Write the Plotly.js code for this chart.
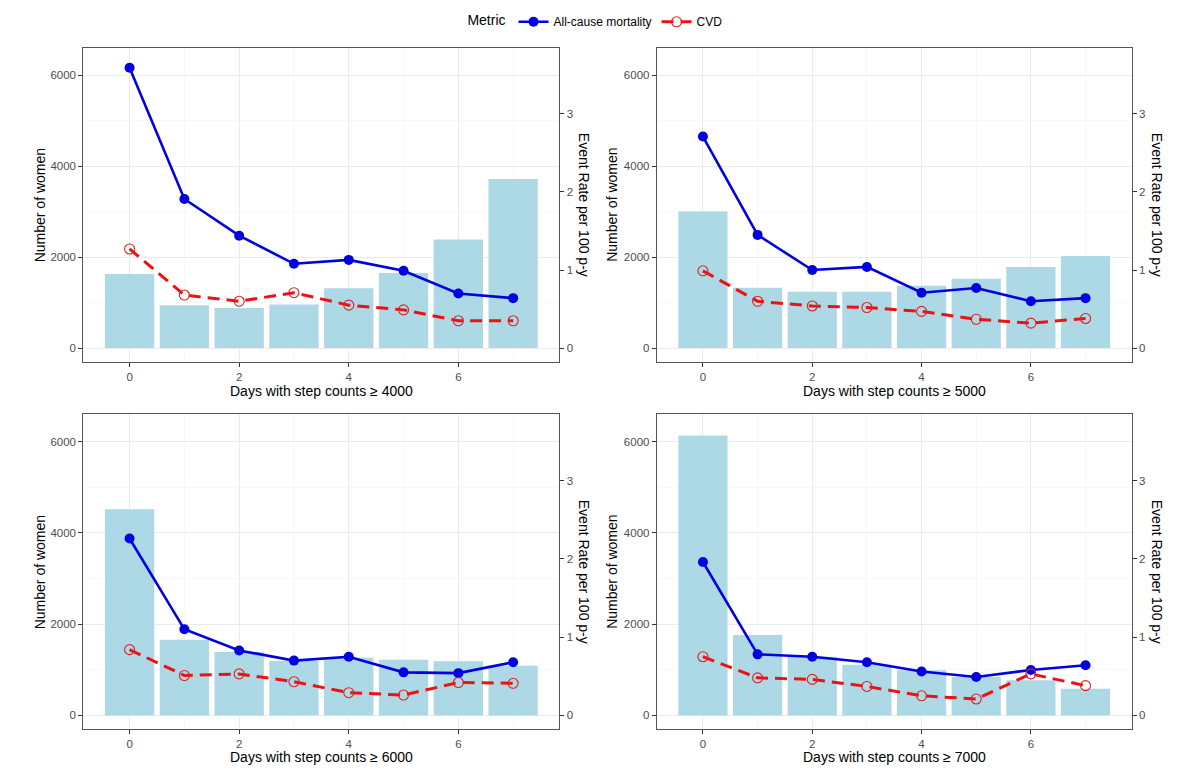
<!DOCTYPE html>
<html>
<head>
<meta charset="utf-8">
<script src="https://cdn.plot.ly/plotly-3.0.1.min.js"></script>
<style>html,body{margin:0;padding:0;background:#fff;}#chart{width:1200px;height:779px;}</style>
</head>
<body>
<div id="chart"></div>
<script>
// ---- data ----
const days = [0, 1, 2, 3, 4, 5, 6, 7];
const thresholds = ["4000", "5000", "6000", "7000"];

const women4000 = [1628, 942, 883, 956, 1314, 1650, 2387, 3715];
const allcause4000 = [3.59, 1.91, 1.44, 1.08, 1.13, 0.99, 0.70, 0.64];
const cvd4000 = [1.27, 0.68, 0.60, 0.71, 0.55, 0.49, 0.35, 0.35];

const women5000 = [3000, 1328, 1241, 1241, 1372, 1526, 1781, 2022];
const allcause5000 = [2.71, 1.45, 1.00, 1.04, 0.71, 0.77, 0.60, 0.64];
const cvd5000 = [0.99, 0.60, 0.54, 0.52, 0.47, 0.37, 0.32, 0.38];

const women6000 = [4522, 1660, 1388, 1192, 1266, 1222, 1185, 1090];
const allcause6000 = [2.26, 1.10, 0.83, 0.70, 0.75, 0.55, 0.54, 0.68];
const cvd6000 = [0.84, 0.51, 0.53, 0.43, 0.29, 0.26, 0.42, 0.41];

const women7000 = [6139, 1762, 1285, 1110, 990, 841, 768, 585];
const allcause7000 = [1.96, 0.78, 0.75, 0.68, 0.56, 0.49, 0.58, 0.64];
const cvd7000 = [0.75, 0.48, 0.46, 0.37, 0.25, 0.21, 0.53, 0.38];

const womenSets = [women4000, women5000, women6000, women7000];
const allSets = [allcause4000, allcause5000, allcause6000, allcause7000];
const cvdSets = [cvd4000, cvd5000, cvd6000, cvd7000];

// ---- layout geometry ----
const W = 1200, H = 779;
const FONT = "Liberation Sans, Arial, sans-serif";
const colDomains = [[0.0694, 0.4662], [0.5473, 0.9431]];
const rowDomains = [[0.5353, 0.9388], [0.0638, 0.4682]];
const leftRange = [-305, 6603];
const factor = 1716;
const rightRange = [leftRange[0] / factor, leftRange[1] / factor];

const traces = [];
const layout = {
  width: W, height: H,
  margin: {l: 0, r: 0, t: 0, b: 0},
  paper_bgcolor: "#fff", plot_bgcolor: "#fff",
  font: {family: FONT, color: "#000"},
  showlegend: true,
  legend: {
    orientation: "h", x: 0.497, xanchor: "center", y: 0.972, yanchor: "middle",
    title: {text: "Metric", side: "left", font: {size: 14, color: "#000"}},
    font: {size: 12, color: "#000"},
    itemwidth: 30
  },
  annotations: []
};

for (let i = 0; i < 4; i++) {
  const col = i % 2, row = Math.floor(i / 2);
  const xa = i === 0 ? "x" : "x" + (i + 1);
  const yl = i === 0 ? "y" : "y" + (2 * i + 1);
  const yr = "y" + (2 * i + 2);
  const xKey = i === 0 ? "xaxis" : "xaxis" + (i + 1);
  const ylKey = i === 0 ? "yaxis" : "yaxis" + (2 * i + 1);
  const yrKey = "yaxis" + (2 * i + 2);

  traces.push({
    type: "bar", x: days, y: womenSets[i], xaxis: xa, yaxis: yl,
    width: 0.9, marker: {color: "#add8e6", line: {width: 0}},
    showlegend: false, hoverinfo: "skip"
  });
  traces.push({
    type: "scatter", mode: "lines+markers", name: "All-cause mortality",
    x: days, y: allSets[i], xaxis: xa, yaxis: yr,
    line: {color: "#0000e0", width: 2.6},
    marker: {color: "#0000e0", size: 10, symbol: "circle"},
    showlegend: i === 0, legendgroup: "all"
  });
  traces.push({
    type: "scatter", mode: "lines+markers", name: "CVD",
    x: days, y: cvdSets[i], xaxis: xa, yaxis: yr,
    line: {color: "#ee1111", width: 3, dash: "12px,7px"},
    marker: {color: "#dd2222", size: 10, symbol: "circle-open", line: {width: 1.1}},
    showlegend: i === 0, legendgroup: "cvd"
  });

  const tickfont = {size: 11.5, color: "#4d4d4d", family: FONT};
  layout[xKey] = {
    domain: colDomains[col], anchor: yl, range: [-0.845, 7.845],
    tickmode: "linear", tick0: 0, dtick: 2,
    showgrid: true, gridcolor: "#ebebeb", gridwidth: 1,
    minor: {dtick: 1, tick0: 0, showgrid: true, gridcolor: "#f3f3f3", gridwidth: 0.6, ticks: ""},
    zeroline: false, showline: true, mirror: true, linecolor: "#555", linewidth: 1,
    ticks: "outside", ticklen: 4, tickcolor: "#333", tickwidth: 1,
    tickfont: tickfont
  };
  layout[ylKey] = {
    domain: rowDomains[row], anchor: xa, range: leftRange,
    tickmode: "linear", tick0: 0, dtick: 2000,
    showgrid: true, gridcolor: "#ebebeb", gridwidth: 1,
    minor: {dtick: 1000, tick0: 0, showgrid: true, gridcolor: "#f3f3f3", gridwidth: 0.6, ticks: ""},
    zeroline: false, showline: true, mirror: true, linecolor: "#555", linewidth: 1,
    ticks: "outside", ticklen: 4, tickcolor: "#333", tickwidth: 1,
    tickfont: tickfont
  };
  layout[yrKey] = {
    domain: rowDomains[row], anchor: xa, overlaying: yl, side: "right", range: rightRange,
    tickmode: "linear", tick0: 0, dtick: 1,
    showgrid: false, zeroline: false, showline: false,
    ticks: "outside", ticklen: 4, tickcolor: "#333", tickwidth: 1,
    tickfont: tickfont
  };

  const xc = (colDomains[col][0] + colDomains[col][1]) / 2;
  const yc = (rowDomains[row][0] + rowDomains[row][1]) / 2;
  const leftTitleX = (col === 0 ? 39.5 : 612) / W;
  const rightTitleX = (col === 0 ? 584 : 1157) / W;
  const xTitleY = 1 - (row === 0 ? 390.7 : 756.7) / H;

  layout.annotations.push({
    xref: "paper", yref: "paper", x: xc, y: xTitleY, xanchor: "center", yanchor: "middle",
    text: "Days with step counts \u2265 " + thresholds[i], showarrow: false,
    font: {size: 14, color: "#000", family: FONT}
  });
  layout.annotations.push({
    xref: "paper", yref: "paper", x: leftTitleX, y: yc, xanchor: "center", yanchor: "middle",
    text: "Number of women", textangle: -90, showarrow: false,
    font: {size: 14, color: "#000", family: FONT}
  });
  layout.annotations.push({
    xref: "paper", yref: "paper", x: rightTitleX, y: yc, xanchor: "center", yanchor: "middle",
    text: "Event Rate per 100 p-y", textangle: 90, showarrow: false,
    font: {size: 14, color: "#000", family: FONT}
  });
}

Plotly.newPlot("chart", traces, layout, {displayModeBar: false, staticPlot: true});
</script>
</body>
</html>
